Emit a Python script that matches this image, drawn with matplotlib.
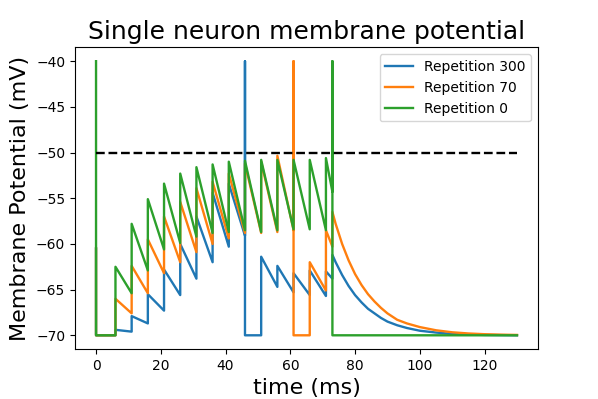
import numpy as np
import matplotlib
matplotlib.use('Agg')
import matplotlib.pyplot as plt

# input arrival times (ms)
t_in = [6, 11, 16, 21, 26, 31, 36, 41, 46, 51, 56, 61, 66, 71, 73]

# membrane potential just before / just after each input (mV), -40 = spike
blue_pre = [-70, -69.6, -68.7, -67.3, -65.6, -63.8, -62.0, -60.3, -59.1, -70, -64.7, -65.3, -65.6, -65.7, -63.8]
blue_post = [-69.4, -67.9, -65.5, -62.8, -60.0, -57.0, -54.4, -53.4, -40, -61.4, -62.4, -63.2, -62.9, -63.0, -61.2]
orange_pre = [-70, -67.6, -65.4, -63.2, -62.0, -60.9, -60.0, -59.4, -58.8, -58.8, -58.7, -58.5, -70, -65.1, -60.3]
orange_post = [-66.0, -62.4, -59.5, -57.0, -55.4, -53.9, -53.2, -52.3, -51.2, -51.0, -50.35, -40, -62.0, -58.5, -56.5]
green_pre = [-70, -65.4, -62.9, -60.6, -59.9, -59.2, -58.8, -58.7, -58.5, -58.7, -58.5, -58.4, -58.4, -58.5, -54.3]
green_post = [-62.5, -57.8, -55.1, -53.4, -52.3, -51.6, -51.3, -51.0, -50.9, -50.8, -50.8, -50.8, -50.8, -50.6, -40]

# start values at t = 0
blue_v0 = -60.5
orange_v0 = -60.5
green_v0 = -40

# decay after the last input
tail_t = [74, 75, 76, 77, 78, 80, 82, 84, 86, 88, 90, 93, 96, 100, 105, 110, 115, 120, 125, 130]
blue_tail = [-62.0, -62.7, -63.4, -64.0, -64.6, -65.6, -66.4, -67.1, -67.6, -68.1, -68.5, -68.9, -69.2,
             -69.5, -69.7, -69.85, -69.92, -69.96, -69.98, -70]
orange_tail = [-57.8, -58.9, -60.0, -60.9, -61.8, -63.3, -64.5, -65.5, -66.3, -67.0, -67.6, -68.3, -68.7,
               -69.1, -69.45, -69.67, -69.8, -69.88, -69.93, -69.96]
green_tail = [-70] * len(tail_t)

v_rest = -70
v_spike = -40
threshold = -50
t_end = 130


def build_trace(v0, pre, post, tail):
    ts = [0, 0]
    vs = [v0, v_rest]
    for t, a, b in zip(t_in, pre, post):
        ts += [t, t]
        vs += [a, b]
        if b == v_spike:
            ts.append(t)
            vs.append(v_rest)
    ts += tail_t
    vs += tail
    return ts, vs


fig = plt.figure(figsize=(5.98, 3.99), dpi=100)
ax = fig.add_subplot(111)
fig.subplots_adjust(left=0.1254, right=0.8997, top=0.881, bottom=0.1253)

ax.plot(*build_trace(blue_v0, blue_pre, blue_post, blue_tail), label='Repetition 300', lw=1.7)
ax.plot(*build_trace(orange_v0, orange_pre, orange_post, orange_tail), label='Repetition 70', lw=1.7)
ax.plot(*build_trace(green_v0, green_pre, green_post, green_tail), label='Repetition 0', lw=1.7)
ax.plot([0, t_end], [threshold, threshold], 'k--', lw=1.7)

ax.set_title('Single neuron membrane potential', fontsize=18)
ax.set_xlabel('time (ms)', fontsize=16)
ax.set_ylabel('Membrane Potential (mV)', fontsize=16)
ax.legend(loc='upper right')

fig.savefig('out.png', dpi=100)
